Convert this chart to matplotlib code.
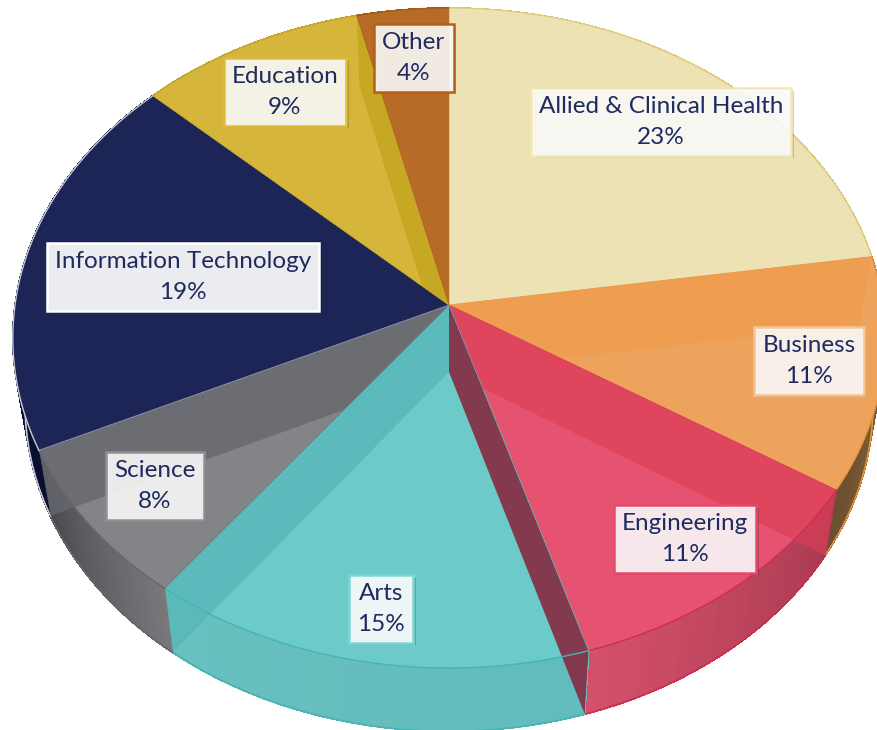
import numpy as np
import matplotlib
matplotlib.use('Agg')
import matplotlib.pyplot as plt
import matplotlib.patheffects as pe
from matplotlib.colors import to_rgb
from matplotlib.patches import Polygon

categories = ['Allied & Clinical Health', 'Business', 'Engineering', 'Arts',
              'Science', 'Information Technology', 'Education', 'Other']
# slightly finer than the printed labels, read from the slice boundaries
values = [22.6, 11.4, 11.3, 15.0, 7.7, 19.0, 9.25, 3.75]

top_colors = ['#ece2b4', '#eea35c', '#e55371', '#6ccbc9', '#838487', '#1c2556', '#d5b63a', '#b66c26']
edge_colors = ['#e0cf80', '#e8913f', '#d02c50', '#45b5b3', '#66676b', '#c8cbd8', '#c9a928', '#a85c18']
# outer wall shading, start and end of each slice going clockwise
shell_start = ['#cdbb70', '#9c7038', '#a83a52', '#62bcbb', '#78787b', '#0a0f30', '#b89a28', '#9c5a1c']
shell_end = ['#cdbb70', '#6a5030', '#d4506a', '#68c0bf', '#47484c', '#0a0f30', '#b89a28', '#9c5a1c']

label_pos = [(661, 122), (809, 361), (685, 539), (381, 609), (155, 486), (183, 277), (285, 92), (414, 58)]
label_edge = ['#f3e8b4', '#f2c596', '#e8486c', '#7fd5d3', '#8f9093', '#ffffff', '#dfbd3c', '#b8601a']
label_alpha = [0.88, 0.88, 0.88, 0.9, 0.88, 0.92, 0.88, 0.88]

# radial walls seen through the top face: boundary index, slice it shows in, colour, alpha
walls = [(1, 1, '#f09a48', 0.6), (2, 2, '#dc3f55', 0.65), (3, 3, '#85354a', 0.97),
         (5, 4, '#66686f', 0.8), (4, 3, '#59b8b9', 0.85), (7, 6, '#c6a722', 0.9)]

CX, CY = 449, 305
BX, AY, K = 434, 326.7, 0.1
DEPTH = 67
LOW_X, LOW_Y = 0.972, 0.99

bounds = np.concatenate([[0], np.cumsum(values)]) / sum(values)


def top_xy(frac):
    theta = 2 * np.pi * np.asarray(frac, dtype=float)
    w = 1 + K * np.cos(theta)
    return CX + BX * np.sin(theta) / w, CY - AY * np.cos(theta) / w


def low_xy(frac):
    x, y = top_xy(frac)
    return CX + (x - CX) * LOW_X, CY + DEPTH + (y - CY) * LOW_Y


def wedge_pts(a, b):
    x, y = top_xy(np.linspace(a, b, 80))
    return np.vstack([[CX, CY], np.column_stack([x, y])])


def slice_clip(a, b):
    # top face plus the outer wall of one slice
    tf = np.linspace(a, b, 80)
    x, y = low_xy(tf)
    xa, ya = top_xy(a)
    xb, yb = top_xy(b)
    pts = [[CX, CY], [xa, ya]] + list(zip(x, y)) + [[xb, yb]]
    return pts


fig = plt.figure(figsize=(8.78, 7.3), dpi=100)
ax = fig.add_axes([0, 0, 1, 1])
ax.set_xlim(0, 878)
ax.set_ylim(730, 0)
ax.axis('off')

# outer wall, painted in thin strips for the shading
for i in range(len(values)):
    a, b = bounds[i], bounds[i + 1]
    steps = np.linspace(a, b, 31)
    c0, c1 = np.array(to_rgb(shell_start[i])), np.array(to_rgb(shell_end[i]))
    for j in range(30):
        t = j / 29
        col = c0 + (c1 - c0) * t
        x0, y0 = top_xy(steps[j])
        x1, y1 = top_xy(steps[j + 1])
        x2, y2 = low_xy(steps[j + 1])
        x3, y3 = low_xy(steps[j])
        ax.add_patch(Polygon([[x0, y0], [x1, y1], [x2, y2], [x3, y3]], closed=True,
                             facecolor=col, edgecolor=col, linewidth=0.6,
                             antialiased=False, zorder=1))
    x, y = low_xy(steps)
    ax.plot(x, y, color=edge_colors[i], lw=1.2, zorder=1.5)

# top face
for i in range(len(values)):
    ax.add_patch(Polygon(wedge_pts(bounds[i], bounds[i + 1]), closed=True,
                         facecolor=top_colors[i], edgecolor=top_colors[i], linewidth=0.4, zorder=2))

for b, s, col, alpha in walls:
    xa, ya = top_xy(bounds[b])
    xb, yb = low_xy(bounds[b])
    wall = Polygon([[CX, CY], [xa, ya], [xb, yb], [CX, CY + DEPTH]], closed=True,
                   facecolor=col, edgecolor='none', alpha=alpha, zorder=3)
    ax.add_patch(wall)
    clip = Polygon(slice_clip(bounds[s], bounds[s + 1]), closed=True, transform=ax.transData)
    wall.set_clip_path(clip)

# rim and spoke lines of the top face
for i in range(len(values)):
    x, y = top_xy(np.linspace(bounds[i], bounds[i + 1], 80))
    ax.plot(x, y, color=edge_colors[i], lw=1.0, zorder=4)
    xe, ye = top_xy(bounds[i])
    ax.plot([CX, xe], [CY, ye], color=edge_colors[i], lw=0.6, alpha=0.6, zorder=4)

for i, name in enumerate(categories):
    t = ax.text(label_pos[i][0], label_pos[i][1], f'{name}\n{round(values[i])}%',
                family='Lato', fontsize=17.5, color='#1f2a5e', ha='center', va='center',
                multialignment='center', linespacing=1.55, zorder=6,
                bbox=dict(boxstyle='square,pad=0.33', facecolor=(1, 1, 1, label_alpha[i]),
                          edgecolor=label_edge[i], linewidth=1.8))
    t.get_bbox_patch().set_path_effects([
        pe.SimplePatchShadow(offset=(2, -2), shadow_rgbFace='black', alpha=0.18), pe.Normal()])

fig.savefig('out.png', dpi=100)
